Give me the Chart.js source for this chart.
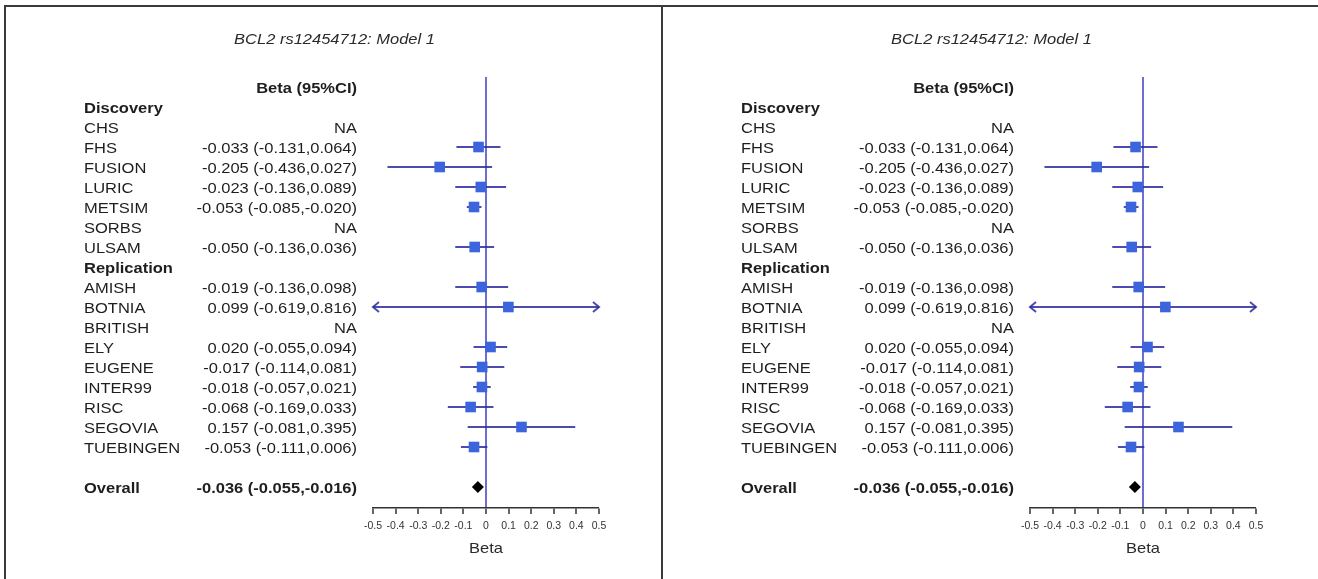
<!DOCTYPE html>
<html lang="en">
<head>
  <meta charset="UTF-8">
  <title>BCL2 rs12454712: Model 1</title>
  <script src="https://cdn.jsdelivr.net/npm/chart.js"></script>
  <style>
    body { margin: 0; background: #fff; width: 1318px; height: 579px; overflow: hidden; position: relative; }
    .line { position: absolute; background: #3a3a3a; }
    canvas { position: absolute; top: 7px; }
  </style>
</head>
<body>
  <div class="line" style="left:4px; top:5px; width:1314px; height:2px;"></div>
  <div class="line" style="left:4px; top:5px; width:2px; height:574px;"></div>
  <div class="line" style="left:661px; top:5px; width:2px; height:574px;"></div>
  <canvas id="plotLeft" width="655" height="572" style="left:7px;"></canvas>
  <canvas id="plotRight" width="655" height="572" style="left:664px;"></canvas>
  <script>
    const title = 'BCL2 rs12454712: Model 1';
    const rowLabels = ['Discovery', 'CHS', 'FHS', 'FUSION', 'LURIC', 'METSIM', 'SORBS', 'ULSAM',
      'Replication', 'AMISH', 'BOTNIA', 'BRITISH', 'ELY', 'EUGENE', 'INTER99', 'RISC', 'SEGOVIA', 'TUEBINGEN',
      '', 'Overall'];
    const headerRows = ['Discovery', 'Replication'];
    const beta  = [null, null, -0.033, -0.205, -0.023, -0.053, null, -0.050,
      null, -0.019, 0.099, null, 0.020, -0.017, -0.018, -0.068, 0.157, -0.053,
      null, -0.036];
    const lower = [null, null, -0.131, -0.436, -0.136, -0.085, null, -0.136,
      null, -0.136, -0.619, null, -0.055, -0.114, -0.057, -0.169, -0.081, -0.111,
      null, -0.055];
    const upper = [null, null, 0.064, 0.027, 0.089, -0.020, null, 0.036,
      null, 0.098, 0.816, null, 0.094, 0.081, 0.021, 0.033, 0.395, 0.006,
      null, -0.016];
    const overallRow = 19;
    const xTicks = [-0.5, -0.4, -0.3, -0.2, -0.1, 0, 0.1, 0.2, 0.3, 0.4, 0.5];

    const FONT = "'Liberation Sans', Arial, sans-serif";
    const SX = 1.1; // text in the picture is a bit wider than normal
    const DY = 1.5;

    function drawText(ctx, s, x, y, font, align, color) {
      ctx.save();
      ctx.font = font;
      ctx.fillStyle = color;
      ctx.textAlign = align;
      ctx.textBaseline = 'middle';
      ctx.translate(x, y + DY);
      ctx.scale(SX, 1);
      ctx.fillText(s, 0, 0);
      ctx.restore();
    }

    function fmt(v) { return v.toFixed(3); }

    const forestPlugin = {
      id: 'forest',
      beforeDatasetsDraw(chart) {
        const ctx = chart.ctx;
        const xs = chart.scales.x, ys = chart.scales.y;
        const lo = xs.min, hi = xs.max;
        ctx.save();
        ctx.strokeStyle = 'rgba(45,45,160,0.85)';
        ctx.lineWidth = 2;
        for (let i = 0; i < beta.length; i++) {
          if (beta[i] === null || i === overallRow) continue;
          const y = ys.getPixelForValue(i);
          const x1 = xs.getPixelForValue(Math.max(lower[i], lo));
          const x2 = xs.getPixelForValue(Math.min(upper[i], hi));
          ctx.beginPath();
          ctx.moveTo(x1, y);
          ctx.lineTo(x2, y);
          ctx.stroke();
          if (lower[i] < lo) {
            ctx.beginPath();
            ctx.moveTo(x1 + 6, y - 5); ctx.lineTo(x1, y); ctx.lineTo(x1 + 6, y + 5);
            ctx.stroke();
          }
          if (upper[i] > hi) {
            ctx.beginPath();
            ctx.moveTo(x2 - 6, y - 5); ctx.lineTo(x2, y); ctx.lineTo(x2 - 6, y + 5);
            ctx.stroke();
          }
        }
        ctx.restore();
      },
      afterDraw(chart) {
        const ctx = chart.ctx;
        const ys = chart.scales.y;
        const area = chart.chartArea;
        const labelX = area.left - 289;
        const valueX = area.left - 16;
        const dark = '#1e1e1e';

        drawText(ctx, title, chart.width / 2, 31, 'italic 15px ' + FONT, 'center', '#2a2a2a');
        drawText(ctx, 'Beta (95%CI)', valueX, ys.getPixelForValue(-1), 'bold 15px ' + FONT, 'right', dark);

        for (let i = 0; i < rowLabels.length; i++) {
          const y = ys.getPixelForValue(i);
          const bold = headerRows.includes(rowLabels[i]) || i === overallRow;
          const f = (bold ? 'bold ' : '') + '15px ' + FONT;
          drawText(ctx, rowLabels[i], labelX, y, f, 'left', dark);
          if (headerRows.includes(rowLabels[i]) || rowLabels[i] === '') continue;
          const s = beta[i] === null ? 'NA' : fmt(beta[i]) + ' (' + fmt(lower[i]) + ',' + fmt(upper[i]) + ')';
          drawText(ctx, s, valueX, y, f, 'right', dark);
        }

        drawText(ctx, 'Beta', (area.left + area.right) / 2, 540, '15px ' + FONT, 'center', '#2a2a2a');
      }
    };

    function makeChart(id) {
      const ctx = document.getElementById(id).getContext('2d');
      const rowIdx = beta.map((b, i) => i);
      return new Chart(ctx, {
        type: 'scatter',
        data: {
          datasets: [{
            data: rowIdx.filter(i => beta[i] !== null && i !== overallRow).map(i => ({ x: beta[i], y: i })),
            pointStyle: 'rect',
            pointRadius: 7.5,
            pointHoverRadius: 7.5,
            backgroundColor: '#3b64dd',
            borderColor: '#3b64dd',
            borderWidth: 0
          }, {
            data: [{ x: beta[overallRow], y: overallRow }],
            pointStyle: 'rectRot',
            pointRadius: 6,
            backgroundColor: '#000',
            borderColor: '#000',
            borderWidth: 0
          }]
        },
        options: {
          responsive: false,
          animation: false,
          events: [],
          layout: { padding: { left: 366, right: 63, top: 70, bottom: 31 } },
          plugins: { legend: { display: false }, tooltip: { enabled: false }, title: { display: false } },
          scales: {
            x: {
              type: 'linear',
              min: -0.5,
              max: 0.5,
              afterBuildTicks: scale => { scale.ticks = xTicks.map(v => ({ value: v })); },
              afterFit: scale => { scale.height = 40; },
              ticks: {
                padding: 6,
                color: '#333',
                font: { family: FONT, size: 10.5 },
                maxRotation: 0,
                autoSkip: false,
                callback: v => String(+v.toFixed(1))
              },
              border: { color: '#333', width: 1.5 },
              grid: {
                drawOnChartArea: true,
                drawTicks: true,
                tickLength: 6,
                tickColor: '#333',
                tickWidth: 1.5,
                color: c => (c.tick && c.tick.value === 0) ? '#6d6dd2' : 'rgba(0,0,0,0)',
                lineWidth: c => (c.tick && c.tick.value === 0) ? 2 : 0
              }
            },
            y: {
              type: 'linear',
              display: false,
              reverse: true,
              min: -1.5,
              max: 20.05
            }
          }
        },
        plugins: [forestPlugin]
      });
    }

    makeChart('plotLeft');
    makeChart('plotRight');
  </script>
</body>
</html>
